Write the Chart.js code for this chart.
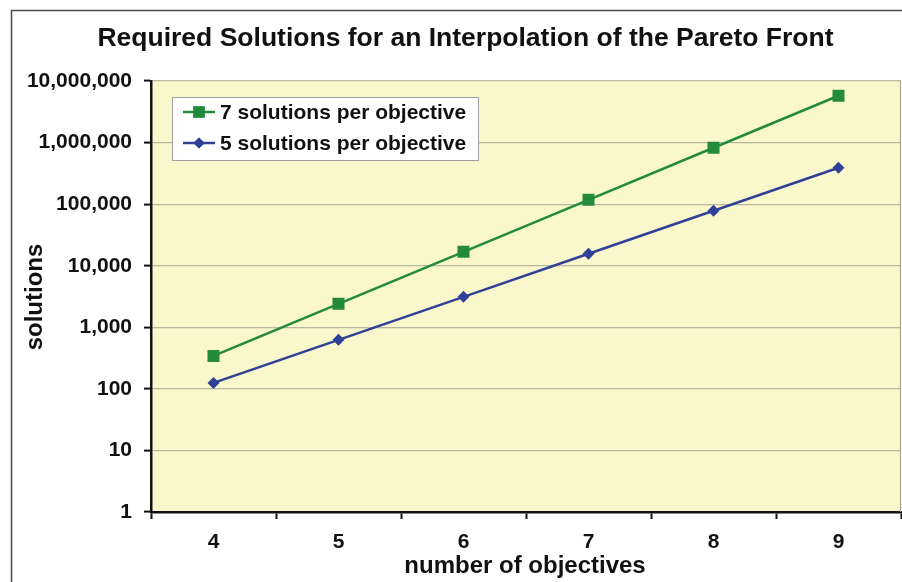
<!DOCTYPE html>
<html>
<head>
<meta charset="utf-8">
<script src="https://cdn.jsdelivr.net/npm/chart.js@4"></script>
<style>
html,body{margin:0;padding:0;background:#fff;}
#wrap{width:902px;height:582px;position:relative;}
</style>
</head>
<body>
<div id="wrap"><canvas id="c" width="902" height="582"></canvas></div>
<script>
const chartTitle = "Required Solutions for an Interpolation of the Pareto Front";
const xTitle = "number of objectives";
const yTitle = "solutions";
const categories = ["4", "5", "6", "7", "8", "9"];
const series7Label = "7 solutions per objective";
const series5Label = "5 solutions per objective";
const series7 = [343, 2401, 16807, 117649, 823543, 5764801];
const series5 = [125, 625, 3125, 15625, 78125, 390625];
const yTicks = [1, 10, 100, 1000, 10000, 100000, 1000000, 10000000];

const FONT = "'Liberation Sans', Arial, sans-serif";
const GREEN = "#238B3B";
const BLUE = "#2F4196";

const decor = {
  id: "decor",
  beforeDraw(chart) {
    const ctx = chart.ctx, a = chart.chartArea;
    ctx.save();
    ctx.fillStyle = "#fff";
    ctx.fillRect(0, 0, chart.width, chart.height);
    ctx.strokeStyle = "#4a4a4a";
    ctx.lineWidth = 1.5;
    ctx.strokeRect(11.5, 10.5, 960, 700);
    ctx.fillStyle = "#FAF7CD";
    ctx.fillRect(a.left, a.top, a.right - a.left, a.bottom - a.top);
    ctx.restore();
  },
  afterDatasetsDraw(chart) {
    const ctx = chart.ctx, a = chart.chartArea;
    ctx.save();
    // right border
    ctx.strokeStyle = "#A8A890";
    ctx.lineWidth = 1.2;
    ctx.beginPath();
    ctx.moveTo(a.right - 0.5, a.top);
    ctx.lineTo(a.right - 0.5, a.bottom);
    ctx.stroke();
    // title
    ctx.fillStyle = "#111";
    ctx.textAlign = "center";
    ctx.textBaseline = "middle";
    ctx.font = "bold 26.5px " + FONT;
    ctx.fillText(chartTitle, 465.5, 39);
    // axis titles
    ctx.font = "bold 24px " + FONT;
    ctx.fillText(xTitle, 525, 566);
    ctx.save();
    ctx.translate(35, 297);
    ctx.rotate(-Math.PI / 2);
    ctx.fillText(yTitle, 0, 0);
    ctx.restore();
    // legend
    const lx = 172, ly = 97, lw = 306, lh = 63;
    ctx.fillStyle = "#fff";
    ctx.fillRect(lx, ly, lw, lh);
    ctx.strokeStyle = "#A0A0A0";
    ctx.lineWidth = 1;
    ctx.strokeRect(lx + 0.5, ly + 0.5, lw, lh);
    const rows = [
      {label: series7Label, color: GREEN, style: "rect", r: 8, y: 112},
      {label: series5Label, color: BLUE, style: "rectRot", r: 5.5, y: 143}
    ];
    rows.forEach(row => {
      ctx.strokeStyle = row.color;
      ctx.lineWidth = 2.5;
      ctx.beginPath();
      ctx.moveTo(183, row.y);
      ctx.lineTo(215, row.y);
      ctx.stroke();
      ctx.fillStyle = row.color;
      Chart.helpers.drawPoint(ctx, {pointStyle: row.style, radius: row.r, borderWidth: 0, rotation: 0}, 199, row.y);
      ctx.fill();
      ctx.fillStyle = "#111";
      ctx.textAlign = "left";
      ctx.textBaseline = "middle";
      ctx.font = "bold 21px " + FONT;
      ctx.fillText(row.label, 220, row.y + 1);
    });
    ctx.restore();
  }
};

new Chart(document.getElementById("c"), {
  type: "line",
  data: {
    labels: categories,
    datasets: [
      {
        label: series7Label,
        data: series7,
        borderColor: GREEN,
        backgroundColor: GREEN,
        borderWidth: 2.5,
        pointStyle: "rect",
        pointRadius: 8.5,
        pointBorderWidth: 0,
        pointBackgroundColor: GREEN,
        tension: 0
      },
      {
        label: series5Label,
        data: series5,
        borderColor: BLUE,
        backgroundColor: BLUE,
        borderWidth: 2.5,
        pointStyle: "rectRot",
        pointRadius: 6,
        pointBorderWidth: 0,
        pointBackgroundColor: BLUE,
        tension: 0
      }
    ]
  },
  options: {
    responsive: false,
    animation: false,
    devicePixelRatio: 1,
    layout: {autoPadding: false, padding: {left: 0, right: 1, top: 81, bottom: 0}},
    plugins: {
      legend: {display: false},
      title: {display: false},
      tooltip: {enabled: false}
    },
    scales: {
      x: {
        type: "category",
        offset: true,
        afterFit(s) { s.height = 70; s.paddingLeft = 0; s.paddingRight = 0; },
        grid: {
          offset: true,
          drawOnChartArea: false,
          drawTicks: true,
          tickLength: 7,
          tickColor: "#111",
          tickWidth: 2
        },
        border: {display: true, color: "#111", width: 2.5},
        ticks: {
          color: "#111",
          font: {family: FONT, size: 21, weight: "bold"},
          padding: 11,
          maxRotation: 0
        }
      },
      y: {
        type: "logarithmic",
        min: 1,
        max: 10000000,
        afterFit(s) { s.width = 151; },
        afterBuildTicks(s) { s.ticks = yTicks.map(v => ({value: v, major: true})); },
        grid: {
          color: (c) => (c.tick && c.tick.value === 1) ? "rgba(0,0,0,0)" : "#B8B8A0",
          lineWidth: 1.2,
          tickLength: 7,
          tickColor: "#111",
          tickWidth: 2
        },
        border: {display: true, color: "#111", width: 2.5},
        ticks: {
          color: "#111",
          font: {family: FONT, size: 21, weight: "bold"},
          padding: 12,
          autoSkip: false,
          callback: (v) => Number(v).toLocaleString("en-US")
        }
      }
    }
  },
  plugins: [decor]
});
</script>
</body>
</html>
